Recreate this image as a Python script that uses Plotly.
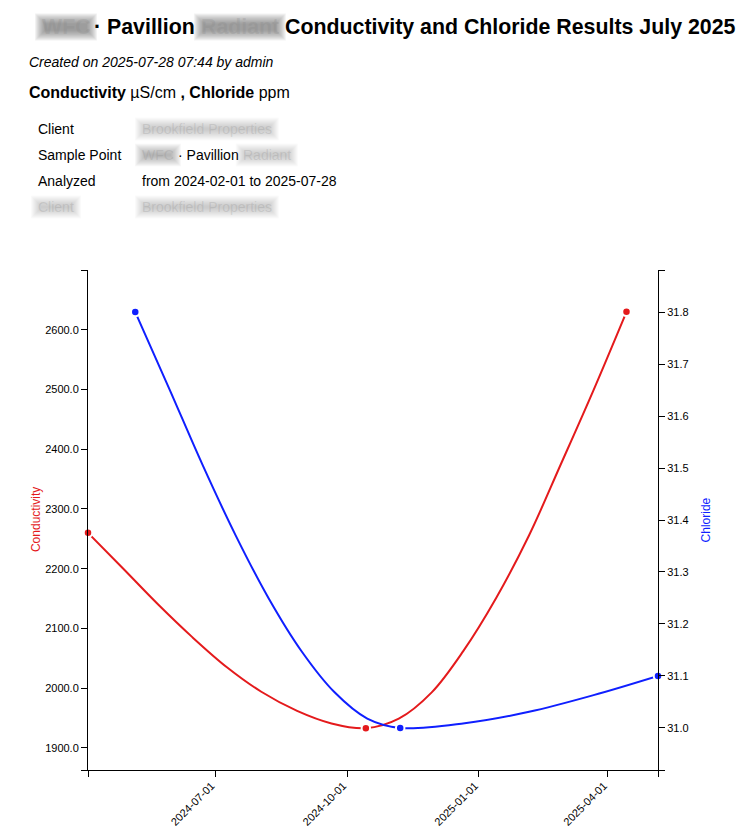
import plotly.graph_objects as go

# measured results (one marker per sample)
cond_dates = ["2024-04-03", "2024-10-14", "2025-04-14"]
cond_values = [2260, 1933, 2630]
chl_dates = ["2024-05-06", "2024-11-07", "2025-05-06"]
chl_values = [31.8, 31.0, 31.1]

cond_curve_dates = ["2024-04-03", "2024-04-28", "2024-05-22", "2024-06-15", "2024-07-09", "2024-08-02",
                    "2024-08-27", "2024-09-20", "2024-10-14", "2024-11-06", "2024-11-29", "2024-12-21",
                    "2025-01-13", "2025-02-05", "2025-02-27", "2025-03-22", "2025-04-14"]
cond_curve_values = [2260, 2199, 2140, 2085, 2035, 1994, 1962, 1941, 1933, 1949, 1993, 2062,
                     2151, 2256, 2374, 2499, 2630]
chl_curve_dates = ["2024-05-06", "2024-05-30", "2024-06-22", "2024-07-15", "2024-08-07", "2024-08-30",
                   "2024-09-22", "2024-10-15", "2024-11-07", "2024-12-22", "2025-02-05", "2025-03-22",
                   "2025-05-06"]
chl_curve_values = [31.8, 31.651, 31.506, 31.371, 31.25, 31.148, 31.069, 31.018, 31.0, 31.009,
                    31.031, 31.063, 31.1]

x_range = ["2024-04-03", "2025-05-06"]
x_ticks = ["2024-07-01", "2024-10-01", "2025-01-01", "2025-04-01"]
cond_range = [1863, 2700]
cond_ticks = [1900, 2000, 2100, 2200, 2300, 2400, 2500, 2600]
chl_range = [30.919, 31.881]
chl_ticks = [31.0, 31.1, 31.2, 31.3, 31.4, 31.5, 31.6, 31.7, 31.8]

RED = "#e41a1c"
BLUE = "#0f1fff"
FONT = "Liberation Sans"
W, H = 751, 832
LEFT, RIGHT, TOP, BOTTOM = 88, 658.5, 270, 770

fig = go.Figure()
fig.add_trace(go.Scatter(x=cond_curve_dates, y=cond_curve_values, mode="lines",
                         line=dict(color=RED, width=2, shape="spline", smoothing=1), yaxis="y"))
fig.add_trace(go.Scatter(x=chl_curve_dates, y=chl_curve_values, mode="lines",
                         line=dict(color=BLUE, width=2, shape="spline", smoothing=1), yaxis="y2"))
fig.add_trace(go.Scatter(x=cond_dates, y=cond_values, mode="markers", cliponaxis=False,
                         marker=dict(color=RED, size=8.5, line=dict(color="white", width=2)), yaxis="y"))
fig.add_trace(go.Scatter(x=chl_dates, y=chl_values, mode="markers", cliponaxis=False,
                         marker=dict(color=BLUE, size=8.5, line=dict(color="white", width=2)), yaxis="y2"))


def paper_x(px):
    return (px - LEFT) / (RIGHT - LEFT)


def paper_y(py):
    return (BOTTOM - py) / (BOTTOM - TOP)


def note(px, py, text, size=14, color="#000"):
    fig.add_annotation(x=paper_x(px), y=paper_y(py), xref="paper", yref="paper",
                       xanchor="left", yanchor="middle", text=text, showarrow=False,
                       borderpad=0, borderwidth=0, font=dict(family=FONT, size=size, color=color))


def blurred(px, py, width, text, size=14, alpha=0.03, ink="rgba(130,130,130,0.22)"):
    # the reference has these words smudged out: a soft grey patch under faint text
    half = size * 0.3
    for grow in (7, 6, 5, 4, 3, 2, 1, 0, -1, -2, -3):
        fig.add_shape(type="rect", xref="paper", yref="paper", layer="below", line_width=0,
                      fillcolor="rgba(100,100,100,%.3f)" % alpha,
                      x0=paper_x(px - grow), x1=paper_x(px + width + grow),
                      y0=paper_y(py + half + grow), y1=paper_y(py - half - grow))
    note(px, py, text, size=size, color=ink)


# heading
blurred(42, 27, 48, "<b>WFC</b>", size=21.33, alpha=0.085)
note(94, 27, "<b>· Pavillion</b>", size=21.33)
blurred(201, 27, 78, "<b>Radiant</b>", size=21.33, alpha=0.075)
note(285, 27, "<b>Conductivity and Chloride Results July 2025</b>", size=21.33)
note(29, 62, "<i>Created on 2025-07-28 07:44 by admin</i>")
note(29, 93, "<b>Conductivity</b> µS/cm <b>, Chloride</b> ppm", size=16)

# info table
note(38, 129, "Client")
blurred(142, 129, 130, "Brookfield Properties")
note(38, 155, "Sample Point")
blurred(142, 155, 32, "WFC", alpha=0.05)
note(178, 155, "· Pavillion")
blurred(243, 155, 48, "Radiant")
note(38, 181, "Analyzed")
note(142, 181, "from 2024-02-01 to 2025-07-28")
blurred(38, 207, 36, "Client")
blurred(142, 207, 130, "Brookfield Properties")

tick_font = dict(family=FONT, size=11, color="#000")
axis_style = dict(showgrid=False, zeroline=False, showline=True, linecolor="#000", linewidth=1,
                  ticks="outside", ticklen=6, tickcolor="#000", tickwidth=1, tickfont=tick_font,
                  tickmode="array", automargin=False)

fig.update_layout(
    width=W, height=H,
    margin=dict(l=LEFT, r=W - RIGHT, t=TOP, b=H - BOTTOM),
    paper_bgcolor="white", plot_bgcolor="white", showlegend=False,
    xaxis=dict(range=x_range, type="date", tickangle=-45, ticklabelshift=-4, ticklabelstandoff=-2,
               tickvals=[x_range[0]] + x_ticks + [x_range[1]],
               ticktext=[""] + x_ticks + [""], **axis_style),
    yaxis=dict(range=cond_range, side="left",
               tickvals=[cond_range[0]] + cond_ticks + [cond_range[1]],
               ticktext=[""] + ["%.1f" % v for v in cond_ticks] + [""], **axis_style),
    yaxis2=dict(range=chl_range, side="right", overlaying="y",
                tickvals=[chl_range[0]] + chl_ticks + [chl_range[1]],
                ticktext=[""] + ["%.1f" % v for v in chl_ticks] + [""], **axis_style),
)

# axis names
for px, name, colour in ((36, "Conductivity", RED), (707, "Chloride", BLUE)):
    fig.add_annotation(x=paper_x(px), y=paper_y(520), xref="paper", yref="paper", text=name,
                       xanchor="center", yanchor="middle", textangle=-90, showarrow=False,
                       borderpad=0, borderwidth=0, font=dict(family=FONT, size=12, color=colour))

fig.write_html("out.html", config=dict(displayModeBar=False),
               post_script="document.body.style.margin='0';document.body.style.overflow='hidden';")
